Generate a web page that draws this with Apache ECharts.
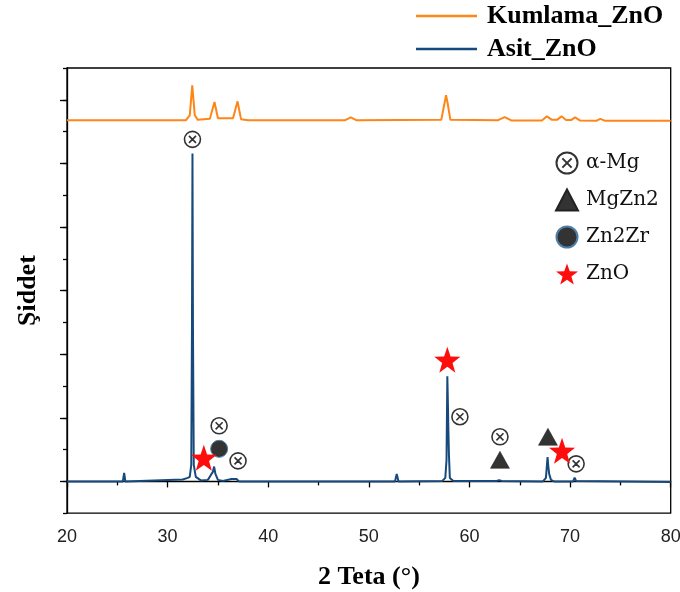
<!DOCTYPE html>
<html>
<head>
<meta charset="utf-8">
<script src="https://cdn.jsdelivr.net/npm/echarts@6/dist/echarts.min.js"></script>
<style>html,body{margin:0;padding:0;background:#fff}#c{width:680px;height:592px}</style>
</head>
<body>
<div id="c"></div>
<script>
// ---- data ----
const seriesNames = ['Kumlama_ZnO', 'Asit_ZnO'];
const kumlamaZnO = [
  [20,5677],[31.8,5677],[32.2,5756],[32.45,6228],[32.7,5756],[33.0,5685],[34.2,5701],[34.66,5965],[35.0,5709],
  [36.5,5709],[36.95,5976],[37.3,5693],[38,5677],[47.6,5677],[48.2,5724],[48.8,5677],[57.2,5685],[57.5,5929],
  [57.67,6071],[57.85,5929],[58.1,5685],[62.8,5677],[63.5,5729],[64.2,5673],[67.2,5673],[67.7,5740],[68.2,5685],
  [68.7,5685],[69.15,5740],[69.6,5681],[70.1,5681],[70.5,5724],[71,5673],[72.6,5669],[73.0,5701],[73.5,5669],[80,5669]
];
const asitZnO = [
  [20,0],[25.55,0],[25.68,134],[25.8,0],[31.5,31],[32.0,55],[32.2,71],[32.35,260],[32.42,2386],[32.47,5157],
  [32.52,2386],[32.6,260],[32.8,71],[33.3,16],[34.0,24],[34.3,102],[34.5,150],[34.62,233],[34.75,118],[35.0,24],
  [35.5,8],[36.35,39],[36.5,8],[36.85,39],[37.1,0],[52.6,0],[52.77,118],[52.95,0],[57.3,8],[57.6,55],[57.72,339],
  [57.8,1654],[57.85,1283],[57.9,843],[57.96,417],[58.05,55],[58.4,8],[62.7,8],[62.95,20],[63.2,8],[67.3,0],
  [67.6,55],[67.7,260],[67.76,381],[67.84,233],[67.92,118],[68.1,24],[68.4,0],[70.3,0],[70.45,60],[70.6,8],[80,-8]
];
const phaseNames = ['α-Mg', 'MgZn2', 'Zn2Zr', 'ZnO'];
const alphaMg = [[32.47,5378],[35.12,874],[37.0,323],[59.05,1016],[63.03,701],[70.6,276]];
const mgZn2 = [[63.03,339],[67.8,701]];
const zn2Zr = [[35.12,512]];
const znO = [[33.6,370],[57.8,1913],[69.2,480]];
const xTicks = [20, 30, 40, 50, 60, 70, 80];
const yMajorTicks = [0, 1000, 2000, 3000, 4000, 5000, 6000];

// ---- symbols ----
const otimesPath = 'path://M0,10 A10,10 0 1 1 20,10 A10,10 0 1 1 0,10 Z M5.6,5.6 L14.4,14.4 M14.4,5.6 L5.6,14.4';
const starPath = 'path://M50,0 L61.8,33.8 L97.6,34.5 L69,56.2 L79.4,90.5 L50,70 L20.6,90.5 L31,56.2 L2.4,34.5 L38.2,33.8 Z';

const chart = echarts.init(document.getElementById('c'), null, {renderer: 'canvas'});
const serif = 'Liberation Serif';
const axisBlack = {lineStyle: {color: '#000', width: 1.3}};

chart.setOption({
  animation: false,
  backgroundColor: '#fff',
  grid: {left: 67, right: 9.3, top: 68, bottom: 78.8, show: true, borderColor: '#000', borderWidth: 1.3,
    containLabel: false, outerBoundsMode: 'none'},
  legend: [
    {
      data: seriesNames, orient: 'vertical', left: 416, top: 0, padding: 0,
      itemWidth: 61, itemHeight: 2.5, itemGap: 1, icon: 'rect',
      textStyle: {fontFamily: serif, fontWeight: 'bold', fontSize: 26, color: '#000', lineHeight: 32, padding: [0, 0, 0, 5]}
    },
    {
      data: phaseNames, orient: 'vertical', left: 555, top: 151, padding: 0,
      itemWidth: 22, itemHeight: 21, itemGap: 13,
      textStyle: {fontFamily: 'DejaVu Serif', fontSize: 20, color: '#111', lineHeight: 24, padding: [0, 0, 0, 3]}
    }
  ],
  xAxis: {
    type: 'value', min: 20, max: 80, interval: 10,
    name: '2 Teta (°)', nameLocation: 'middle', nameGap: 51,
    nameTextStyle: {fontFamily: serif, fontWeight: 'bold', fontSize: 26, color: '#000'},
    axisLine: axisBlack,
    axisTick: {show: true, length: 6, lineStyle: {color: '#000', width: 1.3}},
    minorTick: {show: true, splitNumber: 2, length: 4, lineStyle: {color: '#000', width: 1.3}},
    axisLabel: {fontFamily: 'Liberation Sans', fontSize: 18, color: '#222', margin: 15,
      customValues: xTicks},
    splitLine: {show: false}
  },
  yAxis: [
    {
      type: 'value', min: -500, max: 6500, interval: 500, position: 'left',
      name: 'Şiddet', nameLocation: 'middle', nameGap: 26,
      nameTextStyle: {fontFamily: serif, fontWeight: 'bold', fontSize: 26, color: '#000'},
      axisLine: {show: true, lineStyle: {color: '#000', width: 1.3}},
      axisTick: {show: true, length: 4, lineStyle: {color: '#000', width: 1.3}},
      axisLabel: {show: false},
      splitLine: {show: false}
    },
    {
      type: 'value', min: -500, max: 6500, interval: 500, position: 'left', offset: 0,
      axisLine: {show: false},
      axisTick: {show: true, length: 7, customValues: yMajorTicks, lineStyle: {color: '#000', width: 1.3}},
      axisLabel: {show: false},
      splitLine: {show: false}
    }
  ],
  series: [
    {name: 'Kumlama_ZnO', type: 'line', data: kumlamaZnO, symbol: 'none', color: '#ff8517',
      lineStyle: {width: 2, color: '#ff8517'}, z: 2},
    {name: 'Asit_ZnO', type: 'line', data: asitZnO, symbol: 'none', color: '#174a7c',
      lineStyle: {width: 2, color: '#174a7c'}, z: 2},
    {name: 'α-Mg', type: 'scatter', data: alphaMg, symbol: otimesPath, symbolSize: 16, z: 5,
      itemStyle: {color: '#fff', borderColor: '#333', borderWidth: 1.6, opacity: 1}},
    {name: 'MgZn2', type: 'scatter', data: mgZn2, symbol: 'triangle', symbolSize: [19, 17], z: 5,
      itemStyle: {color: '#333', borderColor: '#222', borderWidth: 0.5, opacity: 1}},
    {name: 'Zn2Zr', type: 'scatter', data: zn2Zr, symbol: 'circle', symbolSize: 17, z: 5,
      itemStyle: {color: '#333', borderColor: '#4d7fa6', borderWidth: 1, opacity: 1}},
    {name: 'ZnO', type: 'scatter', data: znO, symbol: starPath, symbolSize: 26, z: 6,
      itemStyle: {color: '#ff0d0d', opacity: 1}}
  ]
});
</script>
</body>
</html>
